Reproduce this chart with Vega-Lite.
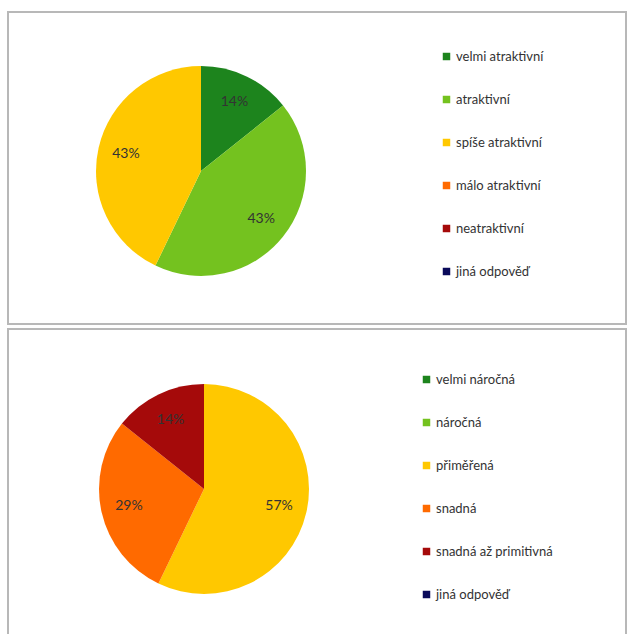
{
  "$schema": "https://vega.github.io/schema/vega-lite/v6.json",
  "padding": {"left": 7, "top": 11, "right": 0, "bottom": 0},
  "spacing": 3,
  "background": "white",
  "config": {
    "view": {"stroke": "#b8b8b8", "strokeWidth": 2},
    "legend": {
      "orient": "none",
      "title": null,
      "symbolType": "square",
      "symbolSize": 56,
      "symbolStrokeWidth": 0,
      "labelFont": "Lato",
      "labelFontSize": 13,
      "labelColor": "#333333",
      "labelOffset": 3,
      "rowPadding": 29
    }
  },
  "resolve": {"scale": {"color": "independent"}},
  "vconcat": [
    {
      "width": 618,
      "height": 312,
      "data": {"values": [
        {"cat": "velmi atraktivní", "n": 1, "o": 1, "label": "14%"},
        {"cat": "atraktivní", "n": 3, "o": 2, "label": "43%"},
        {"cat": "spíše atraktivní", "n": 3, "o": 3, "label": "43%"},
        {"cat": "málo atraktivní", "n": 0, "o": 4, "label": ""},
        {"cat": "neatraktivní", "n": 0, "o": 5, "label": ""},
        {"cat": "jiná odpověď", "n": 0, "o": 6, "label": ""}
      ]},
      "encoding": {
        "theta": {"field": "n", "type": "quantitative", "stack": true},
        "order": {"field": "o", "type": "quantitative"},
        "x": {"datum": 193, "type": "quantitative", "scale": {"domain": [0, 618]}, "axis": null},
        "y": {"datum": 159, "type": "quantitative", "scale": {"domain": [0, 312], "reverse": true}, "axis": null}
      },
      "layer": [
        {
          "mark": {"type": "arc", "outerRadius": 105},
          "encoding": {
            "color": {
              "field": "cat", "type": "nominal",
              "scale": {
                "domain": ["velmi atraktivní", "atraktivní", "spíše atraktivní", "málo atraktivní", "neatraktivní", "jiná odpověď"],
                "range": ["#1d841d", "#74c21f", "#ffc800", "#ff6a00", "#a50a0a", "#0a0a5a"]
              },
              "legend": {"legendX": 432, "legendY": 38}
            }
          }
        },
        {
          "transform": [{"filter": "datum.n > 0"}],
          "mark": {"type": "text", "radius": 77, "font": "Lato", "fontSize": 14, "color": "#333333"},
          "encoding": {"text": {"field": "label", "type": "nominal"}}
        }
      ]
    },
    {
      "width": 618,
      "height": 312,
      "data": {"values": [
        {"cat": "velmi náročná", "n": 0, "o": 1, "label": ""},
        {"cat": "náročná", "n": 0, "o": 2, "label": ""},
        {"cat": "přiměřená", "n": 4, "o": 3, "label": "57%"},
        {"cat": "snadná", "n": 2, "o": 4, "label": "29%"},
        {"cat": "snadná až primitivná", "n": 1, "o": 5, "label": "14%"},
        {"cat": "jiná odpověď", "n": 0, "o": 6, "label": ""}
      ]},
      "encoding": {
        "theta": {"field": "n", "type": "quantitative", "stack": true},
        "order": {"field": "o", "type": "quantitative"},
        "x": {"datum": 196, "type": "quantitative", "scale": {"domain": [0, 618]}, "axis": null},
        "y": {"datum": 160, "type": "quantitative", "scale": {"domain": [0, 312], "reverse": true}, "axis": null}
      },
      "layer": [
        {
          "mark": {"type": "arc", "outerRadius": 105},
          "encoding": {
            "color": {
              "field": "cat", "type": "nominal",
              "scale": {
                "domain": ["velmi náročná", "náročná", "přiměřená", "snadná", "snadná až primitivná", "jiná odpověď"],
                "range": ["#1d841d", "#74c21f", "#ffc800", "#ff6a00", "#a50a0a", "#0a0a5a"]
              },
              "legend": {"legendX": 412, "legendY": 44}
            }
          }
        },
        {
          "transform": [{"filter": "datum.n > 0"}],
          "mark": {"type": "text", "radius": 77, "font": "Lato", "fontSize": 14, "color": "#333333"},
          "encoding": {"text": {"field": "label", "type": "nominal"}}
        }
      ]
    }
  ]
}
